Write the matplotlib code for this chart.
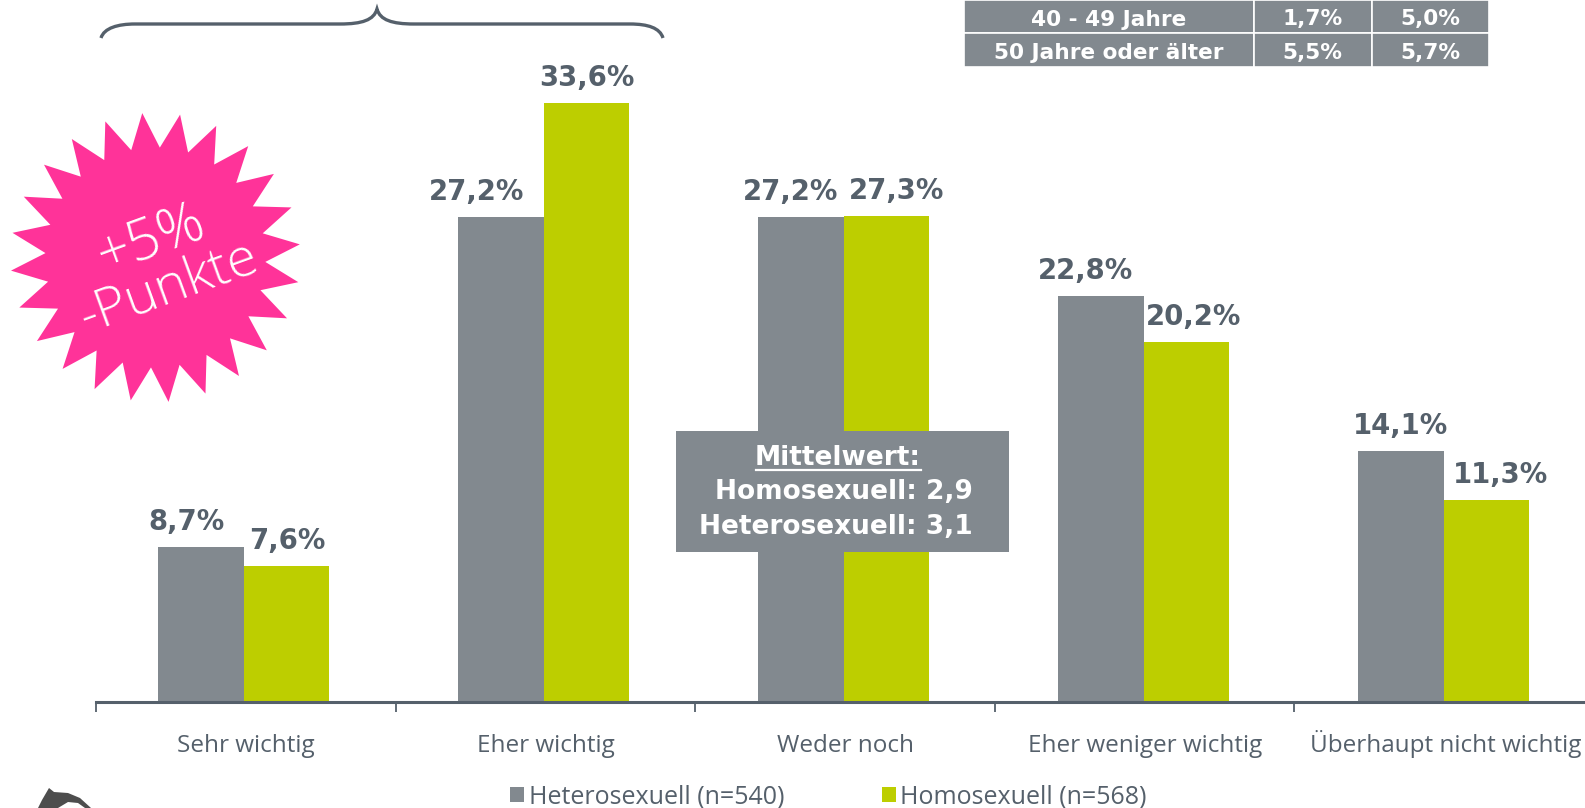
import numpy as np
import matplotlib
matplotlib.use("Agg")
import matplotlib.pyplot as plt
from matplotlib.patches import Polygon, PathPatch, Rectangle
from matplotlib.path import Path

categories = ["Sehr wichtig", "Eher wichtig", "Weder noch", "Eher weniger wichtig", "Überhaupt nicht wichtig"]
hetero = [8.7, 27.2, 27.2, 22.8, 14.1]
homo = [7.6, 33.6, 27.3, 20.2, 11.3]
hetero_name = "Heterosexuell (n=540)"
homo_name = "Homosexuell (n=568)"

table_rows = ["40 - 49 Jahre", "50 Jahre oder älter"]
table_hetero = ["1,7%", "5,5%"]
table_homo = ["5,0%", "5,7%"]

GRAY = "#82898f"
GREEN = "#bdce00"
PINK = "#ff3399"
TEXT = "#55606b"
BOLD = "DejaVu Sans"

W, H = 1585, 808
BASE_Y = 701.5
X0 = 96
STEP = 300
PX_PER_PCT = 17.8

# label shifts in pixels, the labels are not centered on their bars
hetero_nudge = [-14, -24, -10, -15, 0]
homo_nudge = [1, 0, 10, 7, 14]

plt.rcParams["font.family"] = ["Open Sans", "DejaVu Sans"]

fig = plt.figure(figsize=(W / 100, H / 100), dpi=100)
ax = fig.add_axes([X0 / W, 1 - BASE_Y / H, (W - X0) / W, BASE_Y / H])
ax.set_xlim(-147.6 / STEP, (W - X0 - 147.6) / STEP)
ax.set_ylim(0, BASE_Y / PX_PER_PCT)

x = np.arange(len(categories))
w = 0.2855
bars1 = ax.bar(x - w / 2, hetero, w, color=GRAY, label=hetero_name)
bars2 = ax.bar(x + w / 2, homo, w, color=GREEN, label=homo_name)


# Value labels above the bars
def label_bars(bars, values, nudges):
    for bar, v, dx in zip(bars, values, nudges):
        ax.annotate(f"{v:.1f}%".replace(".", ","),
                    (bar.get_x() + bar.get_width() / 2, v),
                    xytext=(dx, 25), textcoords="offset pixels",
                    ha="center", va="center", color=TEXT,
                    fontsize=19.8, fontweight="bold", family=BOLD)


label_bars(bars1, hetero, hetero_nudge)
label_bars(bars2, homo, homo_nudge)

for s in ["top", "left", "right"]:
    ax.spines[s].set_visible(False)
ax.spines["bottom"].set_color(TEXT)
ax.spines["bottom"].set_linewidth(2.2)
ax.set_yticks([])
ax.set_xticks(x * 0.9987 - 0.492)
ax.set_xticklabels([])
ax.tick_params(axis="x", length=7, width=1.3, color=TEXT)
for i, name in enumerate(categories):
    ax.annotate(name, (i, 0), xytext=(2, -51), textcoords="offset pixels",
                ha="center", va="baseline", color=TEXT, fontsize=17.5)

fig.legend(handles=[bars1, bars2], loc="center left",
           bbox_to_anchor=(505 / W, 1 - 797 / H), ncols=2, frameon=False,
           handlelength=0.55, handleheight=0.55, handletextpad=0.2,
           columnspacing=3.9, fontsize=18, labelcolor=TEXT, borderpad=0.2, borderaxespad=0)

# Overlay in pixel coordinates for the decorations
ov = fig.add_axes([0, 0, 1, 1], zorder=5)
ov.set_xlim(0, W)
ov.set_ylim(H, 0)
ov.axis("off")

# Pink star
cx, cy = 155.4, 257.5
tips = 24
ang = np.deg2rad(-95.2) + np.arange(tips * 2) * np.pi / tips
rad = np.where(np.arange(tips * 2) % 2 == 0, 145, 110)
star = np.column_stack([cx + rad * np.cos(ang), cy + rad * np.sin(ang)])
ov.add_patch(Polygon(star, closed=True, color=PINK, lw=0))
ov.text(152, 241, "+5%", rotation=20, rotation_mode="anchor", ha="center", va="center",
        color="white", fontsize=41, fontweight="light")
ov.text(169, 289, "-Punkte", rotation=20, rotation_mode="anchor", ha="center", va="center",
        color="white", fontsize=39, fontweight="light")

# Curly brace above the first two groups
verts = [(101, 38), (104, 28), (118, 24), (135, 24), (340, 24), (362, 24), (374, 20), (377, 9),
         (380, 20), (392, 24), (414, 24), (630, 24), (648, 24), (660, 28), (663, 38)]
codes = [Path.MOVETO, Path.CURVE4, Path.CURVE4, Path.CURVE4, Path.LINETO, Path.CURVE4, Path.CURVE4,
         Path.CURVE4, Path.CURVE4, Path.CURVE4, Path.CURVE4, Path.LINETO, Path.CURVE4, Path.CURVE4, Path.CURVE4]
ov.add_patch(PathPatch(Path(verts, codes), fill=False, edgecolor=TEXT, lw=2.4))

# Grey table at the top right, cut off by the image edge
col_x = [964, 1254, 1371.5, 1489]
row_y = [0, 33, 66.5]
for r in range(2):
    cells = [table_rows[r], table_hetero[r], table_homo[r]]
    for c in range(3):
        ov.add_patch(Rectangle((col_x[c], row_y[r]), col_x[c + 1] - col_x[c], row_y[r + 1] - row_y[r],
                               facecolor=GRAY, edgecolor="white", lw=1.2))
        ov.text((col_x[c] + col_x[c + 1]) / 2, (row_y[r] + row_y[r + 1]) / 2 + 3, cells[c],
                ha="center", va="center", color="white", fontsize=15.6, fontweight="bold", family=BOLD)

# Mean value box
ov.add_patch(Rectangle((676, 431), 333, 121, color=GRAY, lw=0))
ov.text(838, 458, "Mittelwert:", ha="center", va="center", color="white",
        fontsize=19, fontweight="bold", family=BOLD)
ov.plot([756, 921], [470, 470], color="white", lw=1.6)
ov.text(973, 492, "Homosexuell: 2,9", ha="right", va="center", color="white",
        fontsize=19, fontweight="bold", family=BOLD)
ov.text(973, 527, "Heterosexuell: 3,1", ha="right", va="center", color="white",
        fontsize=19, fontweight="bold", family=BOLD)

# Top of the logo, cut off by the bottom edge
logo = [(38, 808), (42, 800), (49, 788), (54, 792), (68, 793), (80, 798), (91, 808), (85, 808),
        (78, 803), (68, 802), (58, 808)]
ov.add_patch(Polygon(logo, closed=True, color="#4d4d4d", lw=0))

fig.savefig("out.png", dpi=100)
